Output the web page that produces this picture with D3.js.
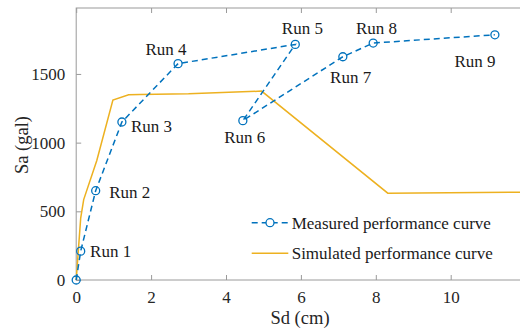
<!DOCTYPE html>
<html>
<head>
<meta charset="utf-8">
<script src="https://cdn.jsdelivr.net/npm/d3@7"></script>
<style>
html,body{margin:0;padding:0;background:#fff;}
svg{display:block;font-family:"Liberation Serif","Times New Roman",serif;}
</style>
</head>
<body>
<svg id="chart" width="520" height="331"></svg>
<script>
// Measured performance curve (Sd cm, Sa gal)
const measuredSd = [0, 0.12, 0.52, 1.22, 2.72, 5.85, 4.45, 7.12, 7.93, 11.18];
const measuredSa = [0, 210, 650, 1150, 1575, 1715, 1160, 1625, 1725, 1785];
// Run labels, anchored in data units
const runLabels = ["Run 1","Run 2","Run 3","Run 4","Run 5","Run 6","Run 7","Run 8","Run 9"];
const runLabelSd = [0.37, 0.88, 1.46, 1.85, 5.49, 3.95, 6.78, 7.47, 10.10];
const runLabelSa = [167, 597, 1080, 1638, 1789, 999, 1432, 1789, 1553];
// Simulated performance curve
const simulatedSd = [0, 0.04, 0.12, 0.2, 0.55, 0.98, 1.4, 1.7, 3.0, 4.95, 8.32, 12];
const simulatedSa = [0, 150, 450, 585, 870, 1310, 1348, 1350, 1355, 1375, 632, 640];
// Ticks (the 12 tick lies at the cropped right edge, unlabelled in the reference)
const xTicks = [0, 2, 4, 6, 8, 10, 12];
const xTickLabels = ["0", "2", "4", "6", "8", "10", ""];
const yTicks = [0, 500, 1000, 1500];
const yTickLabels = ["0", "500", "1000", "1500"];
const legendLabels = ["Measured performance curve", "Simulated performance curve"];

(function () {
const blue = "#0072BD", orange = "#EDB120", axisCol = "#9a9a9a";
const font = "'Liberation Serif', 'Times New Roman', serif";
const svg = d3.select("#chart");
const pl = 76.2, pr = 525.6, pt = 8, pb = 280;
const x = d3.scaleLinear().domain([0, 12]).range([pl, pr]);
const y = d3.scaleLinear().domain([0, 1980]).range([pb, pt]);

// Axes (ticks inward)
const gx = svg.append("g").attr("transform", `translate(0,${pb})`)
  .call(d3.axisBottom(x).tickValues(xTicks).tickSizeInner(-5).tickSizeOuter(0).tickPadding(11)
    .tickFormat((d, i) => xTickLabels[i]));
const gxt = svg.append("g").attr("transform", `translate(0,${pt})`)
  .call(d3.axisTop(x).tickValues(xTicks).tickSizeInner(-5).tickSizeOuter(0).tickFormat(""));
const gy = svg.append("g").attr("transform", `translate(${pl},0)`)
  .call(d3.axisLeft(y).tickValues(yTicks).tickSizeInner(-5).tickSizeOuter(0).tickPadding(11)
    .tickFormat((d, i) => yTickLabels[i]));
const gyr = svg.append("g").attr("transform", `translate(${pr},0)`)
  .call(d3.axisRight(y).tickValues(yTicks).tickSizeInner(-5).tickSizeOuter(0).tickFormat(""));
[gx, gxt, gy, gyr].forEach(g => {
  g.attr("font-family", font).attr("font-size", 17);
  g.select(".domain").remove();
  g.selectAll(".tick line").attr("stroke", axisCol);
  g.selectAll(".tick text").attr("fill", "#262626");
});
svg.append("rect").attr("x", pl).attr("y", pt).attr("width", pr - pl).attr("height", pb - pt)
  .attr("fill", "none").attr("stroke", axisCol).attr("stroke-width", 1);

// Simulated curve
const sim = simulatedSd.map((d, i) => [d, simulatedSa[i]]);
svg.append("path").datum(sim)
  .attr("d", d3.line().x(d => x(d[0])).y(d => y(d[1])))
  .attr("fill", "none").attr("stroke", orange).attr("stroke-width", 1.5);

// Measured curve
const meas = measuredSd.map((d, i) => [d, measuredSa[i]]);
svg.append("path").datum(meas)
  .attr("d", d3.line().x(d => x(d[0])).y(d => y(d[1])))
  .attr("fill", "none").attr("stroke", blue).attr("stroke-width", 1.5).attr("stroke-dasharray", "6,4");
svg.selectAll("circle.m").data(meas).join("circle").attr("class", "m")
  .attr("cx", d => x(d[0])).attr("cy", d => y(d[1])).attr("r", 4)
  .attr("fill", "none").attr("stroke", blue).attr("stroke-width", 1.3);

// Run labels
svg.selectAll("text.run").data(runLabels).join("text").attr("class", "run")
  .attr("x", (d, i) => x(runLabelSd[i])).attr("y", (d, i) => y(runLabelSa[i]))
  .attr("fill", "#1a1a1a").style("font-size", "17px").text(d => d);

// Axis titles
svg.append("text").attr("x", 300).attr("y", 324)
  .attr("text-anchor", "middle").attr("fill", "#262626").style("font-size", "18.5px").text("Sd (cm)");
svg.append("text").attr("transform", `translate(28,145) rotate(-90)`)
  .attr("text-anchor", "middle").attr("fill", "#262626").style("font-size", "18.5px").text("Sa (gal)");

// Legend
const lg = svg.append("g");
const lx0 = 251.7, lx1 = 288.3, ly0 = 222.7, ly1 = 253.3;
lg.append("line").attr("x1", lx0).attr("x2", lx1).attr("y1", ly0).attr("y2", ly0)
  .attr("stroke", blue).attr("stroke-width", 1.5).attr("stroke-dasharray", "6,4");
lg.append("circle").attr("cx", (lx0 + lx1) / 2).attr("cy", ly0).attr("r", 4)
  .attr("fill", "#fff").attr("stroke", blue).attr("stroke-width", 1.3);
lg.append("line").attr("x1", lx0).attr("x2", lx1).attr("y1", ly1).attr("y2", ly1)
  .attr("stroke", orange).attr("stroke-width", 1.5);
lg.selectAll("text").data(legendLabels).join("text")
  .attr("x", 291.7).attr("y", (d, i) => i === 0 ? ly0 + 5.8 : ly1 + 6)
  .attr("fill", "#1a1a1a").style("font-size", "17px").text(d => d);
})();
</script>
</body>
</html>
